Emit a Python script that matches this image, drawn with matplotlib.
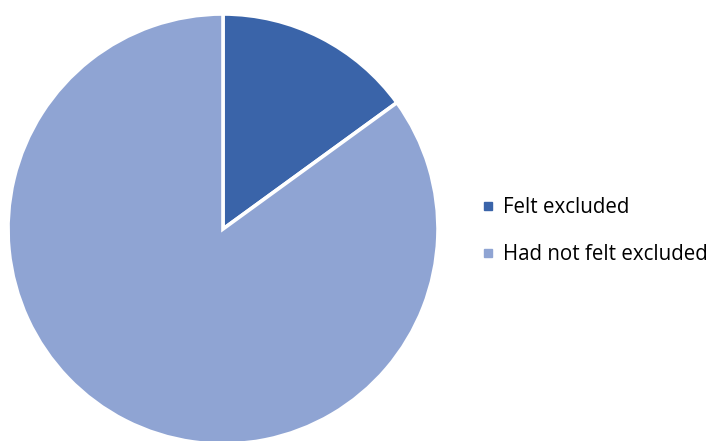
import matplotlib.pyplot as plt
from matplotlib.lines import Line2D

labels = ['Felt excluded', 'Had not felt excluded']
values = [15, 85]
colors = ['#3A64A9', '#8FA4D3']

fig = plt.figure(figsize=(7.14, 4.41), dpi=100)
ax = fig.add_axes([8 / 714, -3 / 441, 430 / 714, 430 / 441])
ax.pie(values, colors=colors, startangle=90, counterclock=False,
       wedgeprops=dict(edgecolor='white', linewidth=2.6))
ax.set_xlim(-1, 1)
ax.set_ylim(-1, 1)
ax.set_aspect('equal')

handles = [Line2D([], [], marker='s', linestyle='', markersize=6,
                  markerfacecolor=c, markeredgecolor=c) for c in colors]
fig.legend(handles, labels, loc='center left', bbox_to_anchor=(0.649, 0.476),
           frameon=False, handlelength=0.6, handletextpad=0.45,
           labelspacing=1.3, prop={'family': 'Open Sans', 'size': 14.8})

plt.savefig('out.png', dpi=100)
